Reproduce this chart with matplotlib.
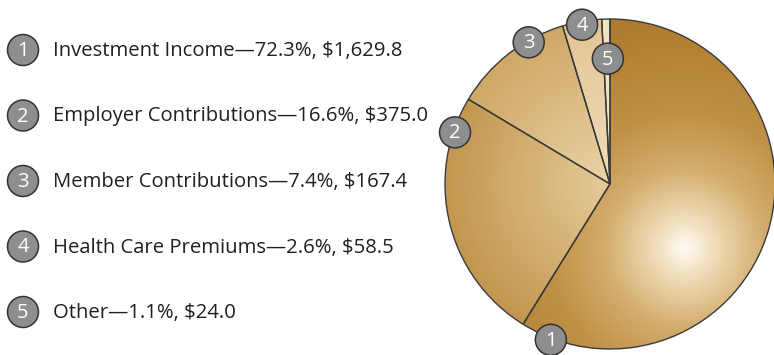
import numpy as np
import matplotlib
matplotlib.use("Agg")
import matplotlib.pyplot as plt
from matplotlib.colors import LinearSegmentedColormap
from matplotlib.patches import Circle

# data
categories = ["Investment Income", "Employer Contributions", "Member Contributions",
              "Health Care Premiums", "Other"]
percents = [72.3, 16.6, 7.4, 2.6, 1.1]
amounts = ["$1,629.8", "$375.0", "$167.4", "$58.5", "$24.0"]
# wedge sizes as drawn in the picture (degrees)
wedge_sizes = [211.8, 89.1, 42.4, 13.8, 2.9]

# layout (pixels, y up)
W, H = 774, 355
cx, cy, R = 610, 171, 165
badge_frac = [0.948, 0.86, 0.69, 0.49, 0.66]   # where along each wedge the badge sits
badge_rad = [1.01, 0.99, 0.99, 0.98, 0.76]      # badge distance, fraction of radius
slice_cmaps = [
    [(0, "#FFFCF6"), (0.12, "#F1DFBD"), (0.35, "#D3AD6D"), (0.6, "#BF9045"), (1, "#AE7C2E")],
    [(0, "#E6CC9A"), (1, "#C29750")],
    [(0, "#EBD4A8"), (1, "#CFA866")],
    [(0, "#F0DDBA"), (1, "#E2C595")],
    [(0, "#F6E8CF"), (1, "#F1E0C2")],
]
highlight = (685, 107)

fig = plt.figure(figsize=(W / 100, H / 100), dpi=100)
ax = fig.add_axes([0, 0, 1, 1])
ax.set_axis_off()

wedges, _ = ax.pie(wedge_sizes, center=(cx, cy), radius=R, startangle=90,
                   counterclock=False,
                   wedgeprops=dict(facecolor="none", edgecolor="#3A3A3A", linewidth=1.0))

# gradient fills clipped to the wedges
xs = np.linspace(cx - R - 2, cx + R + 2, 500)
ys = np.linspace(cy - R - 2, cy + R + 2, 500)
X, Y = np.meshgrid(xs, ys)
ext = [xs[0], xs[-1], ys[0], ys[-1]]
for i, w in enumerate(wedges):
    cmap = LinearSegmentedColormap.from_list(f"s{i}", slice_cmaps[i])
    if i == 0:
        t = np.clip(np.hypot(X - highlight[0], Y - highlight[1]) / 228, 0, 1)
    else:
        t = np.clip(np.hypot(X - cx, Y - cy) / R, 0, 1)
    im = ax.imshow(t, cmap=cmap, vmin=0, vmax=1, extent=ext, origin="lower",
                   interpolation="bilinear", zorder=1)
    im.set_clip_path(w)
    w.set_zorder(2)


def badge(x, y, n):
    ax.add_patch(Circle((x, y), 15.5, facecolor="#8D8E90", edgecolor="#333333",
                        linewidth=1.1, zorder=4))
    ax.text(x, y - 1, str(n), color="white", fontsize=14.5, family="Open Sans",
            ha="center", va="center", zorder=5)


# badges on the pie
total = sum(wedge_sizes)
cum = np.concatenate([[0], np.cumsum(wedge_sizes)]) / total * 360
for i in range(len(wedge_sizes)):
    a = cum[i] + badge_frac[i] * (cum[i + 1] - cum[i])
    th = np.deg2rad(90 - a)
    badge(cx + badge_rad[i] * R * np.cos(th), cy + badge_rad[i] * R * np.sin(th), i + 1)

# legend list on the left
for i, name in enumerate(categories):
    y = H - (50 + i * 65.5)
    badge(23, y, i + 1)
    ax.text(53, y - 1, f"{name}\u2014{percents[i]}%, {amounts[i]}", color="#231F20",
            fontsize=14.6, family="Open Sans", ha="left", va="center")

ax.set_xlim(0, W)
ax.set_ylim(0, H)
ax.set_aspect("equal")
fig.savefig("out.png", dpi=100)
